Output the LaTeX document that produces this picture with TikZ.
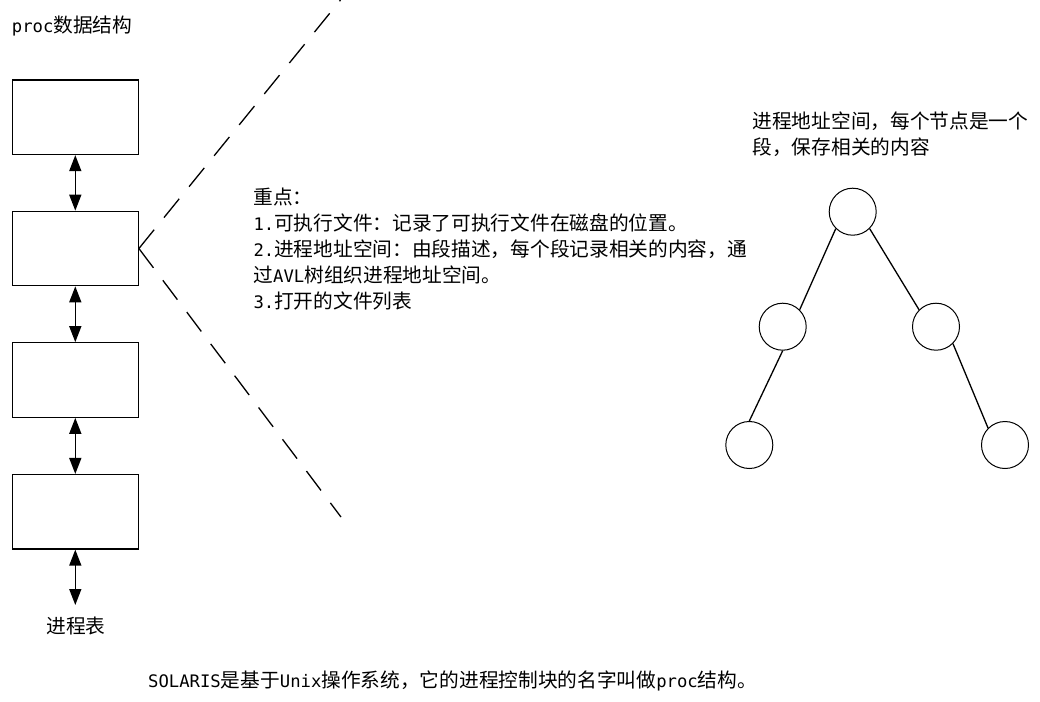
\documentclass[tikz,border=0pt]{standalone}
\usepackage{fontspec}
\setmainfont{Noto Sans CJK SC}
\newfontfamily\mono[Scale=0.875]{DejaVu Sans Mono}
\usetikzlibrary{arrows.meta}
\begin{document}
\begin{tikzpicture}[x=1pt,y=-1pt,
  txt/.style={anchor=base west, inner sep=0pt, font=\fontsize{19.7pt}{26pt}\selectfont},
  ctxt/.style={anchor=base, inner sep=0pt, font=\fontsize{19.7pt}{26pt}\selectfont},
  blk/.style={draw, rectangle, line width=1.2pt, minimum width=126pt, minimum height=74.5pt, inner sep=0pt},
  dblarrow/.style={line width=1.5pt, {Triangle[length=16pt,width=12pt]}-{Triangle[length=16pt,width=12pt]}},
  dashline/.style={line width=1.3pt, dash pattern=on 24.2pt off 15.6pt},
  seg/.style={draw, circle, line width=1pt, minimum size=47pt, inner sep=0pt},
  link/.style={line width=1.3pt}]
\useasboundingbox (0,0) rectangle (1040,701);
\fill[white] (0,0) rectangle (1040,701);

% title
\node[txt] (title) at (11.7,32.2) {{\mono proc}数据结构};

% proc blocks
\node[blk] (b1) at (75.3,117.3) {};
\node[blk] (b2) at (75.3,248.5) {};
\node[blk] (b3) at (75.3,380) {};
\node[blk] (b4) at (75.3,511.8) {};
\coordinate (tabend) at (75.3,605);

\draw[dblarrow] (b1.south) -- (b2.north);
\draw[dblarrow] (b2.south) -- (b3.north);
\draw[dblarrow] (b3.south) -- (b4.north);
\draw[dblarrow] (b4.south) -- (tabend);

\node[ctxt] (tab) at (76,633) {进程表};

% dashed zoom lines
\coordinate (dtop) at (340.5,0);
\coordinate (dbot) at (341,517);
\draw[dashline] (b2.east) -- (dtop);
\draw[dashline] (b2.east) -- (dbot);

% key points
\node[txt] (p1) at (253.3,204) {重点：};
\node[txt] (p2) at (253.3,230) {{\mono 1.}可执行文件：记录了可执行文件在磁盘的位置。};
\node[txt] (p3) at (253.3,256) {{\mono 2.}进程地址空间：由段描述，每个段记录相关的内容，通};
\node[txt] (p4) at (253.3,282) {过{\mono AVL}树组织进程地址空间。};
\node[txt] (p5) at (253.3,308) {{\mono 3.}打开的文件列表};

% tree caption
\node[txt] (t1) at (752.3,128.3) {进程地址空间，每个节点是一个};
\node[txt] (t2) at (752.3,154.3) {段，保存相关的内容};

% tree
\node[seg] (root) at (852.7,211.7) {};
\node[seg] (lm) at (782.7,326.7) {};
\node[seg] (rm) at (936,326.7) {};
\node[seg] (bl) at (749.3,445) {};
\node[seg] (br) at (1005,445) {};
\draw[link] (root.south west) -- (lm.north east);
\draw[link] (root.south east) -- (rm.north west);
\draw[link] (lm.south) -- (bl.north);
\draw[link] (rm.south east) -- (br.north west);

% bottom caption
\node[txt] (cap) at (148,687.5) {{\mono SOLARIS}是基于{\mono Unix}操作系统，它的进程控制块的名字叫做{\mono proc}结构。};
\end{tikzpicture}
\end{document}
